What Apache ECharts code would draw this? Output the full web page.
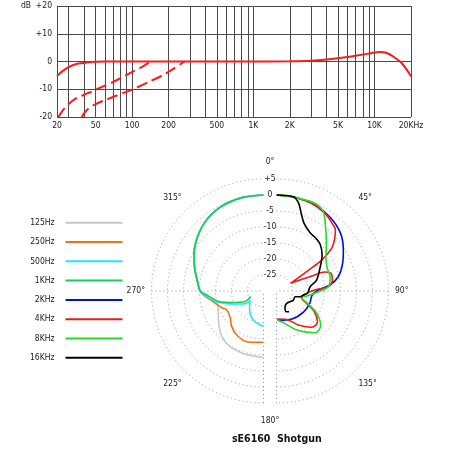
<!DOCTYPE html>
<html><head><meta charset="utf-8">
<script src="https://cdn.jsdelivr.net/npm/echarts@6/dist/echarts.min.js"></script>
<style>html,body{margin:0;padding:0;background:#fff}#c{width:450px;height:450px}</style>
</head><body><div id="c"></div>
<script>
const FONT = '"Liberation Sans Narrow","DejaVu Sans Condensed","Roboto Condensed",Roboto,sans-serif';

// ---------- Frequency response (top) ----------
const respFreq = [24, 27, 30, 34, 38, 44, 50, 60, 100, 300, 1000, 2000, 3000, 4000, 5000, 6000, 7000, 8000, 9000, 10000, 11000, 12000, 13000, 14000, 15000, 16500, 18000, 19000, 20000];
const respDb   = [-5.2, -3.3, -2.0, -1.0, -0.6, -0.25, -0.1, 0, 0, 0, 0, 0.1, 0.3, 0.7, 1.15, 1.6, 2.1, 2.5, 2.9, 3.25, 3.45, 3.3, 2.8, 2.0, 1.1, -0.3, -2.3, -3.8, -5.4];
const cut1Freq = [24.6, 27, 29.4, 34.6, 40, 46, 51, 71, 96, 120, 142];
const cut1Db   = [-20, -17.4, -15.6, -13.2, -12, -10.9, -10, -7.2, -4.2, -2, 0];
const cut2Freq = [38.4, 40, 43, 47, 52, 60, 71, 99, 140, 192, 270];
const cut2Db   = [-20, -18.8, -17.2, -16, -15, -13.9, -12.6, -10.2, -7.2, -4.2, 0];
const freqGridLines = [30, 40, 50, 60, 70, 80, 90, 100, 200, 300, 400, 500, 600, 700, 800, 900, 1000, 2000, 3000, 4000, 5000, 6000, 7000, 8000, 9000, 10000, 20000];
const freqTickValues = [24, 50, 100, 200, 500, 1000, 2000, 5000, 10000, 20000];
const freqTickLabels = ['20', '50', '100', '200', '500', '1K', '2K', '5K', '10K', '20KHz'];

// ---------- Polar pattern (bottom) ----------
const polarNames  = ['125Hz', '250Hz', '500Hz', '1KHz', '2KHz', '4KHz', '8KHz', '16KHz'];
const polarColors = ['#c8c8c8', '#f57010', '#20e8f0', '#10d060', '#0010e0', '#f01818', '#20e020', '#000000'];
const polarAngleLabels = ['0°', '45°', '90°', '135°', '180°', '225°', '270°', '315°'];

const arcAngle = [360, 347, 333, 320, 307, 296, 287, 278, 270];
const arcDb    = [0, -0.05, -0.5, -1.7, -3.7, -5.8, -7.6, -9.2, -10.2];

const p125Angle = arcAngle.concat([263.5, 259, 252, 242, 234, 222, 211, 198, 186, 180]);
const p125Db    = arcDb.concat([-12.1, -14.2, -15.0, -14.0, -12.7, -10.7, -9.7, -9.5, -9.4, -9.3]);
const p250Angle = arcAngle.concat([264, 256, 248, 242.7, 232.5, 221.7, 211.3, 198.3, 188.4, 180]);
const p250Db    = arcDb.concat([-12.1, -14.4, -16.0, -17.1, -16.8, -15.1, -13.9, -13.3, -13.8, -14.0]);
const p500Angle = arcAngle.concat([265, 259.3, 255.2, 246.7, 237.6, 233.4, 234.3, 222.1, 211.5, 199.4, 185.9, 180]);
const p500Db    = arcDb.concat([-12, -13.9, -15.9, -19.7, -22.4, -24, -24.9, -23.5, -21.9, -20.4, -19.3, -19.1]);
const p1kAngle  = arcAngle.concat([266, 261, 256.2, 249.2, 241.4, 241.4, 247.1]);
const p1kDb     = arcDb.concat([-12.2, -14.1, -16, -19.9, -22.8, -24.6, -25.6]);

const p2kAngle  = [0, 11, 24, 36, 47.7, 58.5, 67.3, 77, 83.6, 88.6, 96.5, 111, 128, 151, 176];
const p2kDb     = [0, -0.15, -0.55, -1.5, -3.0, -5.5, -7.6, -10.2, -13.2, -16.9, -18.8, -18.9, -19.3, -20, -20.8];
const p4kAngle  = [0, 11, 22, 32, 40, 44, 48.5, 52.5, 55.6, 57, 61.5, 67, 68.6, 72, 78.8, 85.2, 88.5, 96, 106, 112.2, 118.7, 126.9, 135.9, 147.3, 163.3, 179];
const p4kDb     = [0, -0.15, -0.5, -1.4, -2.7, -3.5, -5.8, -8.4, -12.9, -18, -25, -18, -13.7, -12.1, -12.2, -13.75, -18, -21, -21.8, -19.8, -16.5, -14, -14.2, -17.4, -20.8, -21.2];
const p8kAngle  = [0, 13, 23.7, 30.5, 37, 44, 50, 56, 65.7, 76, 85.2, 91, 99.4, 104.4, 112.2, 119, 128, 137.5, 152.6, 167.9, 179];
const p8kDb     = [0, -0.25, -0.1, -1.2, -4.6, -7.6, -9.7, -11.4, -12.6, -12.7, -13.75, -16.9, -20.4, -22.1, -19.3, -15.6, -12.5, -12.3, -16.3, -19.9, -20.9];
const p16kAngle = [0, 10, 14, 17.5, 22, 30, 36.5, 43, 51.5, 62, 74.7, 82.7, 94.3, 98.5, 103.6, 107.1, 118.2, 128.4, 140.3, 151.6, 155.3, 148.9];
const p16kDb    = [0, -0.1, -1.6, -4.4, -7.1, -9.0, -9.4, -10, -11.8, -14.6, -17, -19.4, -20.3, -21.5, -22.4, -23.9, -24.0, -24.6, -25, -24.4, -22.9, -22.4];

const polarAngles = [p125Angle, p250Angle, p500Angle, p1kAngle, p2kAngle, p4kAngle, p8kAngle, p16kAngle];
const polarDbs    = [p125Db, p250Db, p500Db, p1kDb, p2kDb, p4kDb, p8kDb, p16kDb];

const zip = (a, b) => a.map((v, i) => [v, b[i]]);
const GRID = '#4a4a4a';
const DOT = {color: '#9a9a9a', width: 1, type: [1, 3]};
const TXT = {fontFamily: FONT, fontSize: 8.5, color: '#1a1a1a'};

const gridMarks = freqGridLines.map(f => ({xAxis: f}))
  .concat(freqTickValues.map((f, i) => ({
    xAxis: f,
    lineStyle: {color: 'rgba(0,0,0,0)'},
    label: {show: true, position: 'start', formatter: freqTickLabels[i], distance: 4, ...TXT}
  })));

const series = [
  {type: 'line', xAxisIndex: 0, yAxisIndex: 0, data: zip(respFreq, respDb), smooth: 0.3, symbol: 'none',
   lineStyle: {color: '#ff1a1a', width: 2}, z: 3,
   markLine: {silent: true, symbol: ['none', 'none'], z: 1, animation: false,
     lineStyle: {color: GRID, width: 1, type: 'solid'}, label: {show: false}, emphasis: {disabled: true},
     data: gridMarks}},
  {type: 'line', xAxisIndex: 0, yAxisIndex: 0, data: zip(cut1Freq, cut1Db), smooth: 0.3, symbol: 'none',
   lineStyle: {color: '#ff1a1a', width: 2, type: [11, 5]}, z: 3},
  {type: 'line', xAxisIndex: 0, yAxisIndex: 0, data: zip(cut2Freq, cut2Db), smooth: 0.3, symbol: 'none',
   lineStyle: {color: '#ff1a1a', width: 2, type: [11, 5]}, z: 3}
];
polarNames.forEach((name, i) => {
  series.push({
    name, type: 'line', coordinateSystem: 'polar', polarIndex: i < 4 ? 0 : 1,
    data: zip(polarDbs[i], polarAngles[i]), smooth: 0.35, symbol: 'none', clip: false,
    color: polarColors[i], lineStyle: {color: polarColors[i], width: 1.6}, z: 3
  });
});

const halfRadius = (idx) => ({polarIndex: idx, type: 'value', min: -30, max: 5, interval: 5,
  axisLine: {show: false}, axisTick: {show: false}, axisLabel: {show: false},
  splitLine: {show: true, lineStyle: DOT}});

const option = {
  animation: false,
  backgroundColor: '#fff',
  title: {text: 'sE6160  Shotgun', left: 232, top: 434, padding: 0,
    textStyle: {fontFamily: FONT, fontSize: 10.5, fontWeight: 'bold', color: '#111'}},
  legend: {data: polarNames, orient: 'vertical', left: 30, top: 216.7, padding: 0, align: 'right',
    icon: 'rect', itemWidth: 57, itemHeight: 2, itemGap: 7.3, selectedMode: false,
    textStyle: {...TXT, lineHeight: 12, padding: [0, 6, 0, 0]}},
  grid: {left: 57, right: 39, top: 6, bottom: 333, containLabel: false},
  xAxis: {type: 'log', logBase: 10, min: 24, max: 20000,
    axisLine: {show: false}, axisTick: {show: false}, axisLabel: {show: false}, splitLine: {show: false}},
  yAxis: {type: 'value', min: -20, max: 20, interval: 10,
    axisLine: {show: true, lineStyle: {color: GRID, width: 1}}, axisTick: {show: false},
    axisLabel: {...TXT, margin: 5, formatter: v => v === 20 ? 'dB  +20' : (v > 0 ? '+' + v : String(v))},
    splitLine: {show: true, lineStyle: {color: GRID, width: 1}}},
  polar: [
    {center: [263.5, 291], radius: 112},
    {center: [276.5, 291], radius: 112},
    {center: [270, 291], radius: 112}
  ],
  angleAxis: [
    {polarIndex: 0, type: 'value', min: 180, max: 360, startAngle: 270, endAngle: 90, clockwise: true,
     axisLine: {show: false}, axisTick: {show: false, customValues: [180, 270]}, axisLabel: {show: false},
     splitLine: {show: true, lineStyle: DOT}},
    {polarIndex: 1, type: 'value', min: 0, max: 180, startAngle: 90, endAngle: -90, clockwise: true,
     axisLine: {show: false}, axisTick: {show: false, customValues: [90, 180]}, axisLabel: {show: false},
     splitLine: {show: true, lineStyle: DOT}},
    {polarIndex: 2, type: 'value', min: 0, max: 360, interval: 45, startAngle: 90, clockwise: true,
     axisLine: {show: false}, axisTick: {show: false}, splitLine: {show: false},
     axisLabel: {...TXT, margin: 13, formatter: v => polarAngleLabels[Math.round(v / 45) % 8]}}
  ],
  radiusAxis: [
    halfRadius(0), halfRadius(1),
    {polarIndex: 2, type: 'value', min: -30, max: 5, interval: 5,
     axisLine: {show: false}, axisTick: {show: false}, splitLine: {show: false},
     axisLabel: {...TXT, margin: 0, align: 'center', verticalAlign: 'middle',
       formatter: v => v === -30 ? '' : (v > 0 ? '+' + v : String(v))}}
  ],
  series
};
const chart = echarts.init(document.getElementById('c'));
chart.setOption(option);
</script>
</body></html>
